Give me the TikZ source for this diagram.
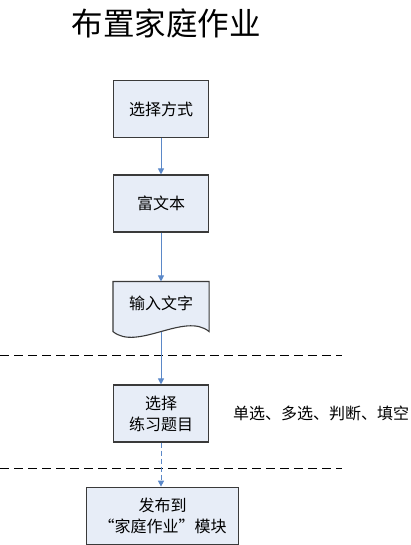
\documentclass[tikz,border=0pt]{standalone}
\usepackage{fontspec}
\newfontfamily\cjk{Noto Sans CJK SC}
\usetikzlibrary{arrows.meta,calc}
\definecolor{boxfill}{HTML}{E7EDF7}
\definecolor{boxline}{HTML}{3A3A3A}
\definecolor{arrowblue}{HTML}{5B88C8}
\tikzset{
  stepbox/.style={draw=boxline,fill=boxfill,line width=1.1pt,minimum width=95pt,minimum height=57pt,inner sep=0pt,align=center,font=\cjk\fontsize{16}{21}\selectfont},
  flow/.style={draw=arrowblue,line width=1pt,-{Triangle[width=6pt,length=6pt]}},
  dflow/.style={flow,dash pattern=on 5pt off 3pt},
  divider/.style={draw=black,line width=0.9pt,dash pattern=on 9pt off 5pt}
}
\begin{document}
\begin{tikzpicture}[x=1pt,y=-1pt]
\useasboundingbox (0,0) rectangle (410,545);
\node[font=\cjk\fontsize{31.5}{32}\selectfont] (title) at (166,23) {布置家庭作业};
\node[stepbox] (b1) at (161,109) {选择方式};
\node[stepbox] (b2) at (161,203.5) {富文本};
\node[stepbox,draw=none,fill=none,minimum height=49pt] (doc) at (161,306.5) {};
\draw[draw=boxline,fill=boxfill,line width=1.1pt] (doc.north west) -- (doc.north east) -- (doc.south east)
  .. controls ($(doc.south east)+(-24,-20)$) and ($(doc.south west)+(24,20)$) .. (doc.south west) -- cycle;
\node[font=\cjk\fontsize{16}{21}\selectfont] (doctext) at ($(doc.center)+(0,-3)$) {输入文字};
\node[stepbox] (b4) at (161,413.5) {选择\\练习题目};
\node[stepbox,minimum width=152pt] (b5) at (162.7,515.7) {发布到\\“家庭作业”模块};
\node[font=\cjk\fontsize{16}{16}\selectfont,anchor=west,inner sep=0pt] (side) at (233,413) {单选、多选、判断、填空};
\draw[divider] (0,355) -- (342,355);
\draw[divider] (0,468) -- (342,468);
\draw[flow] (b1) -- (b2);
\draw[flow] (b2) -- (doc);
\draw[flow] (doc.south) -- (b4);
\draw[dflow] (b4.south -| b4) -- (b4.south |- b5.north);
\end{tikzpicture}
\end{document}
